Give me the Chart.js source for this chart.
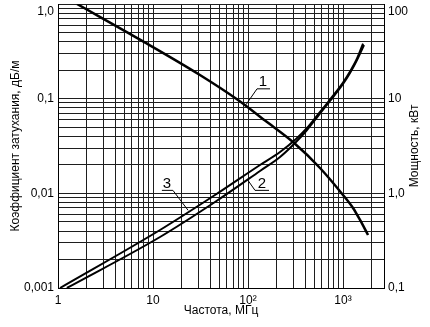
<!DOCTYPE html>
<html>
<head>
<meta charset="utf-8">
<script src="https://cdn.jsdelivr.net/npm/chart.js@4.4.0/dist/chart.umd.min.js"></script>
<style>
  html, body { margin: 0; padding: 0; background: #fff; }
  canvas { display: block; }
</style>
</head>
<body>
<canvas id="chart" width="430" height="327"></canvas>
<script>
// frequency range, MHz
const freqMin = 1
const freqMax = 2700

// curve 1 - power, kW (right axis)
const powerFreq = [1.585, 7.3, 31.2, 78.5, 151, 297.7, 572.6, 1000, 1274, 1510, 1833]
const powerKw = [100, 42.0, 17.78, 9.68, 5.88, 3.485, 1.852, 0.96, 0.7, 0.523, 0.363]

// curve 3 - attenuation, dB/m (upper line of the pair)
const att3Freq = [1.05, 11.85, 44.9, 133.7, 217.3, 320.1, 417.9, 545.6, 729.8, 1000, 1185, 1404, 1624]
const att3 = [0.001, 0.0041, 0.0096, 0.01993, 0.02733, 0.0375, 0.049, 0.06805, 0.098, 0.1482, 0.1936, 0.2657, 0.3825]

// curve 2 - attenuation, dB/m (lower line of the pair)
const att2Freq = [1.24, 11.85, 44.9, 133.7, 217.3, 320.1, 417.9, 545.6, 729.8, 1000, 1185, 1404, 1664]
const att2 = [0.001, 0.003458, 0.0081, 0.01722, 0.0242, 0.03485, 0.04667, 0.06559, 0.0945, 0.1429, 0.1867, 0.2562, 0.3688]

// tick labels
const xDecades = [1, 10, 100, 1000]
const xTickLabels = ['1', '10', '10²', '10³']
const yDecades = [0.001, 0.01, 0.1, 1]
const yTickLabels = ['0,001', '0,01', '0,1', '1,0']
const y2Decades = [0.1, 1, 10, 100]
const y2TickLabels = ['0,1', '1,0', '10', '100']

// curve numbers with leader lines (data coords)
const curveNotes = [
    { text: '1', axis: 'y2', at: [143.8, 15.1], leader: [[95.3, 8.65], [124.4, 12.7], [170.4, 12.7]] },
    { text: '2', axis: 'y', at: [140.4, 0.0127], leader: [[100, 0.0137], [118.5, 0.01075], [166.4, 0.01075]] },
    { text: '3', axis: 'y', at: [14.0, 0.0127], leader: [[23.4, 0.00662], [16.2, 0.01075], [12.4, 0.01075]] },
]

const ink = '#000'
const gridInk = '#1e1e1e'
const font = { family: "'Liberation Sans', Arial, sans-serif", size: 12 }

// 1..9 lines in every decade up to max
function gridValues(decades, max) {
    const out = []
    decades.forEach(d => {
        for (let m = 1; m <= 9; m++) {
            const v = d * m
            if (v <= max * 1.0001) out.push(v)
        }
    })
    return out
}

function decadeLabel(decades, labels) {
    return (value, index, ticks) => {
        const i = decades.findIndex(d => Math.abs(value / d - 1) < 1e-6)
        if (i < 0) return ''
        // top label sits a bit under the frame
        if (index === ticks.length - 1) return ['', labels[i]]
        return labels[i]
    }
}

function points(xs, ys) {
    return xs.map((x, i) => ({ x: x, y: ys[i] }))
}

function logAxis(extra) {
    return Object.assign({
        type: 'logarithmic',
        grid: { color: gridInk, lineWidth: 1, drawTicks: false },
        border: { color: ink, width: 1 },
    }, extra)
}

const notesPlugin = {
    id: 'curveNotes',
    afterDatasetsDraw(chart) {
        const { ctx, scales } = chart
        ctx.save()
        ctx.strokeStyle = ink
        ctx.lineWidth = 1
        ctx.fillStyle = ink
        ctx.font = "15px 'Liberation Sans', Arial, sans-serif"
        ctx.textAlign = 'center'
        ctx.textBaseline = 'middle'
        curveNotes.forEach(n => {
            const ys = scales[n.axis]
            ctx.beginPath()
            n.leader.forEach((p, i) => {
                const px = scales.x.getPixelForValue(p[0])
                const py = ys.getPixelForValue(p[1])
                if (i === 0) ctx.moveTo(px, py)
                else ctx.lineTo(px, py)
            })
            ctx.stroke()
            ctx.fillText(n.text, scales.x.getPixelForValue(n.at[0]), ys.getPixelForValue(n.at[1]))
        })
        // right axis title reads bottom to top
        const area = chart.chartArea
        ctx.font = "12px 'Liberation Sans', Arial, sans-serif"
        ctx.translate(chart.width - 15, (area.top + area.bottom) / 2)
        ctx.rotate(-Math.PI / 2)
        ctx.fillText('Мощность, кВт', 0, 0)
        ctx.restore()
    }
}

new Chart(document.getElementById('chart'), {
    type: 'line',
    data: {
        datasets: [
            { label: '1', data: points(powerFreq, powerKw), yAxisID: 'y2', borderColor: ink, borderWidth: 2.5 },
            { label: '3', data: points(att3Freq, att3), yAxisID: 'y', borderColor: ink, borderWidth: 2 },
            { label: '2', data: points(att2Freq, att2), yAxisID: 'y', borderColor: ink, borderWidth: 2 },
        ]
    },
    options: {
        responsive: false,
        animation: false,
        events: [],
        layout: { padding: { top: 4 } },
        elements: {
            point: { radius: 0 },
            line: { cubicInterpolationMode: 'monotone', fill: false },
        },
        plugins: { legend: { display: false }, tooltip: { enabled: false } },
        scales: {
            x: logAxis({
                position: 'bottom',
                min: freqMin,
                max: freqMax,
                afterBuildTicks: s => { s.ticks = gridValues(xDecades, freqMax).map(v => ({ value: v })) },
                afterFit: s => { s.height = 39; s.paddingLeft = 0; s.paddingRight = 0 },
                ticks: { callback: decadeLabel(xDecades, xTickLabels), autoSkip: false, maxRotation: 0, padding: 5, color: ink, font: font },
                title: { display: true, text: 'Частота, МГц', color: ink, font: font, padding: { top: 0, bottom: 9 } },
            }),
            y: logAxis({
                position: 'left',
                min: 0.001,
                max: 1,
                afterBuildTicks: s => { s.ticks = gridValues(yDecades, 1).map(v => ({ value: v })) },
                afterFit: s => { s.width = 58; s.paddingTop = 0; s.paddingBottom = 0 },
                ticks: { callback: decadeLabel(yDecades, yTickLabels), autoSkip: false, padding: 4, color: ink, font: font },
                title: { display: true, text: 'Коэффициент затухания, дБ/м', color: ink, font: font, padding: { top: 8, bottom: 0 } },
            }),
            y2: logAxis({
                position: 'right',
                min: 0.1,
                max: 100,
                afterBuildTicks: s => { s.ticks = gridValues(y2Decades, 100).map(v => ({ value: v })) },
                afterFit: s => { s.width = 46; s.paddingTop = 0; s.paddingBottom = 0 },
                grid: { display: false, drawTicks: false },
                ticks: { callback: decadeLabel(y2Decades, y2TickLabels), autoSkip: false, padding: 4, color: ink, font: font },
            }),
        }
    },
    plugins: [notesPlugin]
})
</script>
</body>
</html>
